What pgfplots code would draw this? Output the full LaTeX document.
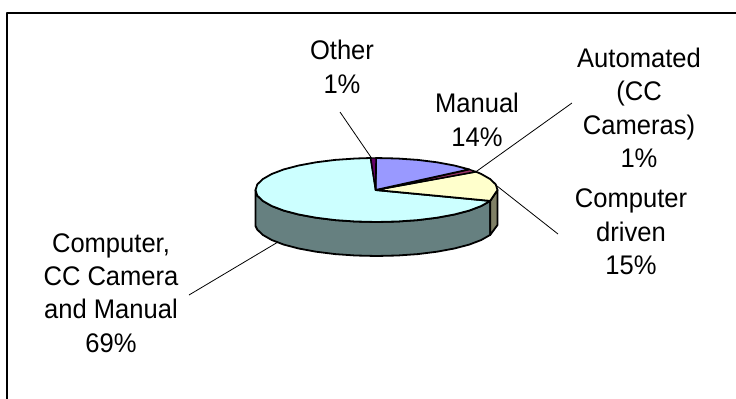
\documentclass[border=0pt]{standalone}
\usepackage{fontspec}
\setmainfont[FakeStretch=0.95]{Liberation Sans}
\usepackage{pgfplots}
\pgfplotsset{compat=1.18}
\definecolor{cManual}{HTML}{9999FF}
\definecolor{cAuto}{HTML}{993366}
\definecolor{cDriven}{HTML}{FFFFCC}
\definecolor{cCombo}{HTML}{CCFFFF}
\definecolor{cOther}{HTML}{660066}
\definecolor{sDriven}{HTML}{808066}
\definecolor{sCombo}{HTML}{668080}
\begin{document}
\begin{tikzpicture}
\useasboundingbox (0,0) rectangle (736bp,399bp);
\begin{axis}[
  anchor=south west,at={(0,0)},
  x=1bp,y=1bp,
  width=736bp,height=399bp,scale only axis,
  xmin=0,xmax=736,ymin=0,ymax=399,y dir=reverse,
  hide axis,clip=true,
  every axis plot/.append style={line join=round},
]
% chart frame
\addplot[black,line width=1.8bp] coordinates {(7,400) (7,13) (737,13)};
% side wall: Computer, CC Camera and Manual
\addplot[fill=sCombo,draw=black,line width=1.8bp] coordinates {
(490.2,200.9)(490.2,234.9)(481.3,240)(469.2,244.6)(454.3,248.5)(437,251.7)(417.9,254.1)(397.5,255.5)(376.5,256)(355.5,255.5)(335.1,254.1)(316,251.7)(298.7,248.5)(283.8,244.6)(271.7,240)(262.8,234.9)(257.3,229.6)(255.5,226)(255.5,190)(257.3,195.6)(262.8,200.9)(271.7,206)(283.8,210.6)(298.7,214.5)(316,217.7)(335.1,220.1)(355.5,221.5)(376.5,222)(397.5,221.5)(417.9,220.1)(437,217.7)(454.3,214.5)(469.2,210.6)(481.3,206)} --cycle;
% side wall: Computer driven
\addplot[fill=sDriven,draw=black,line width=1.8bp] coordinates {
(490.2,200.9)(497.5,190)(497.5,225)(490.2,234.9)} --cycle;
% top: Computer, CC Camera and Manual 69%
\addplot[fill=cCombo,draw=black,line width=1.8bp] coordinates {
(375.7,190)(370.7,158)(355.5,158.5)(335.1,159.9)(316,162.3)(298.7,165.5)(283.8,169.4)(271.7,174)(262.8,179.1)(257.3,184.4)(255.5,190)(257.3,195.6)(262.8,200.9)(271.7,206)(283.8,210.6)(298.7,214.5)(316,217.7)(335.1,220.1)(355.5,221.5)(376.5,222)(397.5,221.5)(417.9,220.1)(437,217.7)(454.3,214.5)(469.2,210.6)(481.3,206)(490.2,200.9)} --cycle;
% top: Computer driven 15%
\addplot[fill=cDriven,draw=black,line width=1.8bp] coordinates {
(375.7,190)(476,171.7)(481.3,174)(490.2,179.1)(495.7,184.4)(497.5,190)(490.2,200.9)} --cycle;
% top: Automated 1%
\addplot[fill=cAuto,draw=black,line width=1.4bp] coordinates {
(375.7,190)(469.2,169.4)(476,171.7)} --cycle;
% top: Manual 14%
\addplot[fill=cManual,draw=black,line width=1.8bp] coordinates {
(375.7,190)(376,158)(397.5,158.5)(417.9,159.9)(437,162.3)(454.3,165.5)(469.2,169.4)} --cycle;
% top: Other 1%
\addplot[fill=cOther,draw=black,line width=1.4bp] coordinates {
(375.7,190)(370.7,158)(376,158)} --cycle;
% leader lines
\addplot[black,line width=0.8bp] coordinates {(340,112)(371.7,158.3)};
\addplot[black,line width=0.8bp] coordinates {(476,171.7)(572,103)};
\addplot[black,line width=0.8bp] coordinates {(497,186)(558,234)};
\addplot[black,line width=0.8bp] coordinates {(278,242)(189,295)};
% labels
\tikzset{lab/.style={align=center,inner sep=0pt,font=\fontsize{27}{33.5}\selectfont}}
\node[lab] at (axis cs:342,67) {Other\\1\%};
\node[lab] at (axis cs:477,120) {Manual\\14\%};
\node[lab] at (axis cs:639,108) {Automated\\(CC\\Cameras)\\1\%};
\node[lab] at (axis cs:631,232) {Computer\\driven\\15\%};
\node[lab] at (axis cs:111,293) {Computer,\\CC Camera\\and Manual\\69\%};
\end{axis}
\end{tikzpicture}
\end{document}
